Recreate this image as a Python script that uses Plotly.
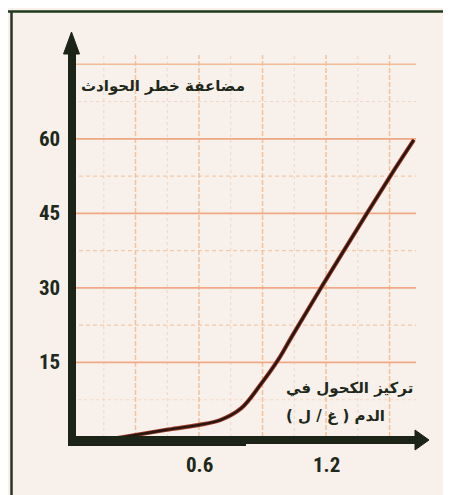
import plotly.graph_objects as go

# ---- data ----
conc = [0.2, 0.30, 0.44, 0.595, 0.70, 0.80, 0.89, 0.975, 1.034, 1.176, 1.393, 1.526, 1.615]
risk = [-0.3, 0.4, 1.4, 2.4, 3.4, 5.8, 10.5, 15.6, 19.9, 30.0, 45.0, 54.0, 59.8]

x_ticks = [0.6, 1.2]
x_tick_labels = ["0.6", "1.2"]
y_ticks = [15, 30, 45, 60]
y_tick_labels = ["15", "30", "45", "60"]

grid_y_major = [15, 30, 45, 60]
grid_y_top = [75]
grid_y_mid = [22.5, 37.5, 52.5]
grid_y_faint = [7.5, 67.5]
grid_x_major = [0.3, 0.6, 0.9, 1.2, 1.5]
grid_x_minor = [0.15, 0.45, 0.75, 1.05, 1.35]

title_text = "مضاعفة خطر الحوادث"
xlabel_line1 = "تركيز الكحول في"
xlabel_line2 = "الدم ( غ / ل )"

# ---- geometry (figure is 451 x 495, plot area = full figure) ----
W, H = 451, 495
X0PX, XSCALE = 64.0, 211.7   # px of x=0, px per unit
Y0PX, YSCALE = 429.0, 4.97   # px of y=0, px per unit

def dx(px):
    return (px - X0PX) / XSCALE

def dy(py):
    return (Y0PX - py) / YSCALE

x_range = [dx(0), dx(W)]
y_range = [dy(H), dy(0)]

BG = "#f8f0ea"
AXIS = "#1b2416"
TXT = "#1e281b"

shapes = []
grid_right = dx(408)
grid_top = dy(47)

for v in grid_x_minor:
    shapes.append(dict(type="line", xref="x", yref="y", x0=v, x1=v, y0=0, y1=grid_top,
                       line=dict(color="#f1d8c6", width=1.1, dash="dot"), layer="below"))
for v in grid_y_faint:
    shapes.append(dict(type="line", xref="x", yref="y", x0=0, x1=grid_right, y0=v, y1=v,
                       line=dict(color="#f1d8c6", width=1.1, dash="dot"), layer="below"))
for v in grid_y_mid:
    shapes.append(dict(type="line", xref="x", yref="y", x0=0, x1=grid_right, y0=v, y1=v,
                       line=dict(color="#f2c9a8", width=1.3, dash="4px,3px"), layer="below"))
for v in grid_x_major:
    shapes.append(dict(type="line", xref="x", yref="y", x0=v, x1=v, y0=0, y1=grid_top,
                       line=dict(color="#f1c29c", width=1.5, dash="5px,2px"), layer="below"))
for v in grid_y_top:
    shapes.append(dict(type="line", xref="x", yref="y", x0=0, x1=grid_right, y0=v, y1=v,
                       line=dict(color="#f2bc96", width=1.6), layer="below"))
for v in grid_y_major:
    shapes.append(dict(type="line", xref="x", yref="y", x0=0, x1=grid_right, y0=v, y1=v,
                       line=dict(color="#efa784", width=1.8), layer="below"))

# axes with arrowheads
shapes.append(dict(type="line", xref="x", yref="y", x0=dx(64), x1=dx(64), y0=dy(438), y1=dy(42),
                   line=dict(color=AXIS, width=8)))
shapes.append(dict(type="path", xref="x", yref="y",
                   path=f"M {dx(55.5)} {dy(46)} L {dx(63.5)} {dy(24)} L {dx(71.5)} {dy(46)} Z",
                   fillcolor=AXIS, line=dict(color=AXIS, width=1)))
shapes.append(dict(type="line", xref="x", yref="y", x0=dx(60), x1=dx(238), y0=dy(433), y1=dy(433),
                   line=dict(color=AXIS, width=10)))
shapes.append(dict(type="line", xref="x", yref="y", x0=dx(236), x1=dx(410), y0=dy(432), y1=dy(432),
                   line=dict(color=AXIS, width=8)))
shapes.append(dict(type="path", xref="x", yref="y",
                   path=f"M {dx(407)} {dy(422)} L {dx(421)} {dy(432)} L {dx(407)} {dy(442)} Z",
                   fillcolor=AXIS, line=dict(color=AXIS, width=1)))

# frame lines (top and left)
shapes.append(dict(type="line", xref="paper", yref="paper", x0=0, x1=1, y0=1 - 3.5 / H, y1=1 - 3.5 / H,
                   line=dict(color="#203a1c", width=2.5)))
shapes.append(dict(type="line", xref="paper", yref="paper", x0=3.5 / W, x1=3.5 / W, y0=0, y1=1 - 3 / H,
                   line=dict(color="#2a3424", width=2.5)))

fig = go.Figure()
fig.add_trace(go.Scatter(x=conc, y=risk, mode="lines",
                         line=dict(color="#9a3a28", width=4.2, shape="spline", smoothing=1.0),
                         hoverinfo="skip", showlegend=False))
fig.add_trace(go.Scatter(x=conc, y=risk, mode="lines",
                         line=dict(color="#2a1610", width=2.4, shape="spline", smoothing=1.0),
                         showlegend=False))

annotations = []
tick_font = dict(family="Liberation Sans Narrow, Roboto Condensed, Arial Narrow, Liberation Sans, sans-serif",
                 size=21, color=TXT)
for v, t in zip(y_ticks, y_tick_labels):
    annotations.append(dict(x=dx(54), y=v, xref="x", yref="y", text=f"<b>{t}</b>", showarrow=False,
                            xanchor="right", yanchor="middle", font=tick_font))
for v, t in zip(x_ticks, x_tick_labels):
    annotations.append(dict(x=v, y=dy(457), xref="x", yref="y", text=f"<b>{t}</b>", showarrow=False,
                            xanchor="center", yanchor="middle", font=tick_font))

ar_font = dict(family="DejaVu Sans, Noto Sans, sans-serif", size=15, color=TXT)
annotations.append(dict(x=dx(155), y=dy(78), xref="x", yref="y", text=f"<b>{title_text}</b>",
                        showarrow=False, xanchor="center", yanchor="middle", font=ar_font))
annotations.append(dict(x=dx(276), y=dy(380), xref="x", yref="y", text=f"<b>{xlabel_line1}</b>",
                        showarrow=False, xanchor="left", yanchor="middle", font=ar_font))
annotations.append(dict(x=dx(276), y=dy(408), xref="x", yref="y", text=f"<b>{xlabel_line2}</b>",
                        showarrow=False, xanchor="left", yanchor="middle", font=ar_font))

fig.update_layout(
    width=W, height=H,
    margin=dict(l=0, r=0, t=0, b=0, pad=0),
    paper_bgcolor=BG, plot_bgcolor=BG,
    xaxis=dict(range=x_range, visible=False, fixedrange=True),
    yaxis=dict(range=y_range, visible=False, fixedrange=True),
    shapes=shapes, annotations=annotations, showlegend=False,
)

fig.write_html("out.html")
